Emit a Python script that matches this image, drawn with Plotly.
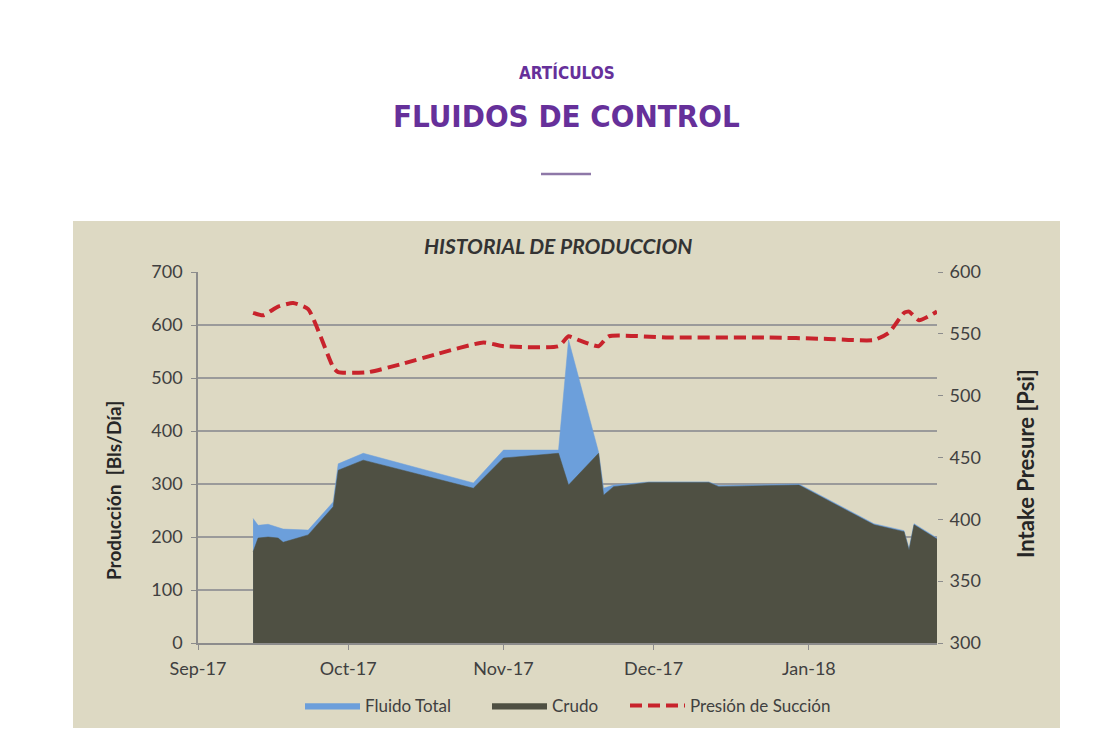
import plotly.graph_objects as go

W, H = 1117, 746
OFF = 8  # page body margin

# ---- data ----
prod_dates = ["2017-09-12", "2017-09-13", "2017-09-15", "2017-09-17", "2017-09-18",
              "2017-09-23", "2017-09-28", "2017-09-29", "2017-10-04", "2017-10-26",
              "2017-11-01", "2017-11-12", "2017-11-14", "2017-11-20", "2017-11-21",
              "2017-11-23", "2017-11-30", "2017-12-12", "2017-12-14", "2017-12-30",
              "2018-01-14", "2018-01-20", "2018-01-21", "2018-01-22", "2018-01-26 14:00"]
fluido_total = [235, 222, 224, 218, 215,
                213, 266, 338, 358, 302,
                364, 364, 572, 360, 292,
                298, 304, 304, 297, 300,
                225, 212, 178, 225, 198]
crudo = [172, 198, 200, 198, 190,
         204, 257, 326, 345, 292,
         349, 358, 298, 358, 279,
         295, 303, 303, 295, 298,
         223, 210, 175, 223, 196]

pres_dates = ["2017-09-12", "2017-09-14", "2017-09-17", "2017-09-20", "2017-09-23",
              "2017-09-28", "2017-09-29", "2017-10-05", "2017-10-12", "2017-10-19",
              "2017-10-28", "2017-11-01", "2017-11-12", "2017-11-14", "2017-11-16",
              "2017-11-20", "2017-11-22", "2017-12-04", "2017-12-24", "2018-01-04",
              "2018-01-14", "2018-01-17", "2018-01-20", "2018-01-21", "2018-01-23",
              "2018-01-26 14:00"]
presion = [567, 565, 572, 575, 570,
           523, 519, 519, 526, 534,
           543, 540, 540, 548, 545,
           540, 548, 547, 547, 546,
           545, 551, 567, 568, 561,
           568]

x_range = ["2017-09-01", "2018-01-26 14:00"]
y1_range = [0, 700]
y2_range = [300, 600]

BLUE = "#6c9fdb"
DARK = "#4f5043"
RED = "#c8232c"
BEIGE = "#ddd9c3"
PURPLE = "#66309a"
TXT = "#404040"
FONT = "Lato"
HEAD = "DejaVu Sans Condensed, Liberation Sans Narrow, DejaVu Sans"

def px(x):
    return (x - OFF) / W

def py(y):
    return 1 - (y - OFF) / H

fig = go.Figure()
fig.add_trace(go.Scatter(x=prod_dates, y=fluido_total, name="Fluido Total",
                         mode="lines", fill="tozeroy", fillcolor=BLUE,
                         line=dict(color=BLUE, width=0.5), legend="legend"))
fig.add_trace(go.Scatter(x=prod_dates, y=crudo, name="Crudo",
                         mode="lines", fill="tozeroy", fillcolor=DARK,
                         line=dict(color=DARK, width=0.5), legend="legend2"))
fig.add_trace(go.Scatter(x=pres_dates, y=presion, name="Presión de Succión",
                         mode="lines", yaxis="y2",
                         line=dict(color=RED, width=4, dash="12px,6px",
                                   shape="spline", smoothing=0.5), legend="legend3"))

legend_common = dict(orientation="h", xanchor="left", yanchor="middle",
                     bgcolor="rgba(0,0,0,0)", itemwidth=55,
                     font=dict(size=17, color=TXT, family=FONT))

fig.update_layout(
    width=W, height=H,
    margin=dict(l=0, r=0, t=0, b=0, autoexpand=False),
    paper_bgcolor="white",
    plot_bgcolor="white",
    showlegend=True,
    font=dict(family=FONT, color=TXT, size=16),
    xaxis=dict(domain=[px(198), px(937)], range=x_range, type="date",
               tick0="2017-09-01", dtick="M1", tickformat="%b-%y",
               showgrid=False, showline=True, linecolor="#8c8c8c", linewidth=1.5,
               ticks="outside", ticklen=5, tickcolor="#8c8c8c", ticklabelstandoff=4,
               tickfont=dict(size=18, color=TXT, family=FONT), zeroline=False),
    yaxis=dict(domain=[py(643), py(272)], range=y1_range, dtick=100,
               showgrid=True, gridcolor="#9a9a9a", gridwidth=1.5,
               showline=True, linecolor="#8c8c8c", linewidth=1.5,
               ticks="outside", ticklen=5, tickcolor="#8c8c8c", ticklabelstandoff=5,
               tickfont=dict(size=18, color=TXT, family=FONT), zeroline=False),
    yaxis2=dict(overlaying="y", side="right", range=y2_range, dtick=50,
                showgrid=False, showline=False,
                ticks="outside", ticklen=5, tickcolor="#8c8c8c", ticklabelstandoff=3,
                tickfont=dict(size=18, color=TXT, family=FONT), zeroline=False),
    legend=dict(x=px(300), y=py(706), **legend_common),
    legend2=dict(x=px(487), y=py(706), **legend_common),
    legend3=dict(x=px(625), y=py(706), **legend_common),
    shapes=[
        dict(type="rect", xref="paper", yref="paper", layer="below",
             x0=px(73), x1=px(1060), y0=py(728), y1=py(221),
             fillcolor=BEIGE, line=dict(width=0)),
        dict(type="line", xref="paper", yref="paper",
             x0=px(541), x1=px(591), y0=py(174), y1=py(174),
             line=dict(color="#8e78a8", width=2.5)),
    ],
    annotations=[
        dict(text="<b>ARTÍCULOS</b>", xref="paper", yref="paper", x=px(567), y=py(72),
             showarrow=False, xanchor="center", yanchor="middle",
             font=dict(family=HEAD, size=17, color=PURPLE)),
        dict(text="<b>FLUIDOS DE CONTROL</b>", xref="paper", yref="paper", x=px(566), y=py(116),
             showarrow=False, xanchor="center", yanchor="middle",
             font=dict(family=HEAD, size=31, color=PURPLE)),
        dict(text="<b><i>HISTORIAL DE PRODUCCION</i></b>", xref="paper", yref="paper",
             x=px(558), y=py(245), showarrow=False, xanchor="center", yanchor="middle",
             font=dict(family=FONT, size=21, color="#333333")),
        dict(text="<b>Producción  [Bls/Día]</b>", xref="paper", yref="paper",
             x=px(113), y=py(491), showarrow=False, textangle=-90,
             xanchor="center", yanchor="middle",
             font=dict(family=FONT, size=19, color="#262626")),
        dict(text="<b>Intake Presure [Psi]</b>", xref="paper", yref="paper",
             x=px(1025), y=py(464), showarrow=False, textangle=-90,
             xanchor="center", yanchor="middle",
             font=dict(family=FONT, size=22, color="#262626")),
    ],
)

fig.write_html("out.html")
